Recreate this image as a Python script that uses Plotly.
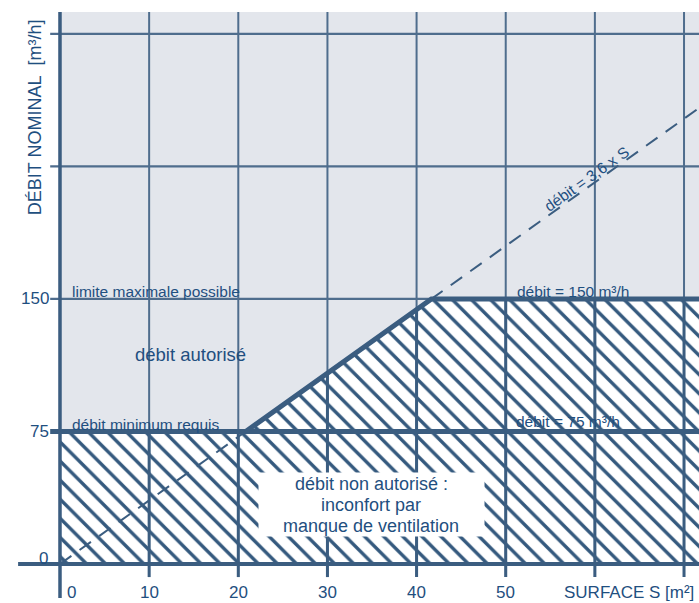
import plotly.graph_objects as go

# ---------------- data ----------------
x_ticks = [0, 10, 20, 30, 40, 50, 60, 70]
x_label_vals = [0, 10, 20, 30, 40, 50]
x_tick_labels = ["0", "10", "20", "30", "40", "50"]
y_grid = [75, 150, 225, 300]
y_tick_vals = [0, 75, 150]
y_tick_labels = ["0", "75", "150"]
coef = 3.6          # débit = 3,6 x S
q_min = 75          # débit minimum requis
q_max = 150         # limite maximale possible
s_break = q_min / coef
s_cap = q_max / coef

# ---------------- style ----------------
LINE = "#3b5d80"
GRID = "#4f6d8d"
TEXT = "#1f4f80"
GRAY = "#e3e6ec"
FONT = "Liberation Sans, Arial, sans-serif"

X_MIN, X_MAX = -6.73, 71.68
Y_MIN, Y_MAX = -22.07, 319.2
X_END = 73
Y_TOP = 312.4

fig = go.Figure()

hatch = dict(shape="\\", size=13.5, solidity=0.25, fgcolor="#34597e", bgcolor="white", fgopacity=1)

# lower hatched zone (débit non autorisé)
fig.add_trace(go.Scatter(
    x=[0, X_END, X_END, 0, 0], y=[0, 0, q_min, q_min, 0],
    fill="toself", fillcolor="white", fillpattern=hatch,
    line=dict(width=0), mode="lines", hoverinfo="skip", showlegend=False))
# upper hatched zone
fig.add_trace(go.Scatter(
    x=[s_break, s_cap, X_END, X_END, s_break], y=[q_min, q_max, q_max, q_min, q_min],
    fill="toself", fillcolor="white", fillpattern=hatch,
    line=dict(width=0), mode="lines", hoverinfo="skip", showlegend=False))

# vertical grid lines
vx, vy = [], []
for t in x_ticks[1:]:
    vx += [t, t, None]
    vy += [-7.4, Y_TOP, None]
fig.add_trace(go.Scatter(x=vx, y=vy, mode="lines", line=dict(color=GRID, width=2),
                         hoverinfo="skip", showlegend=False))
# grid lines reinforced inside hatched zone
zx, zy = [], []
for t in x_ticks[1:]:
    top = min(coef * t, q_max) if t > s_break else q_min
    zx += [t, t, None]
    zy += [-7.4, top, None]
fig.add_trace(go.Scatter(x=zx, y=zy, mode="lines", line=dict(color=LINE, width=3),
                         hoverinfo="skip", showlegend=False))
# horizontal grid lines
hx, hy = [], []
for g in y_grid:
    if g == q_min:
        continue
    hx += [-1.1, X_END if g != q_max else s_cap, None]
    hy += [g, g, None]
fig.add_trace(go.Scatter(x=hx, y=hy, mode="lines", line=dict(color=GRID, width=2.3),
                         hoverinfo="skip", showlegend=False))
# y axis line (S = 0)
fig.add_trace(go.Scatter(x=[0, 0], y=[-19.2, Y_TOP], mode="lines",
                         line=dict(color=LINE, width=3.5), hoverinfo="skip", showlegend=False))
# x axis line (débit = 0)
fig.add_trace(go.Scatter(x=[-4.7, X_END], y=[0, 0], mode="lines",
                         line=dict(color=LINE, width=4), hoverinfo="skip", showlegend=False))
# débit minimum line
fig.add_trace(go.Scatter(x=[-1.1, X_END], y=[q_min, q_min], mode="lines",
                         line=dict(color=LINE, width=5), hoverinfo="skip", showlegend=False))
# upper boundary of hatched zone
fig.add_trace(go.Scatter(x=[s_break, s_cap, X_END], y=[q_min, q_max, q_max], mode="lines",
                         line=dict(color=LINE, width=5), hoverinfo="skip", showlegend=False))
# débit = 3,6 x S dashed line
fig.add_trace(go.Scatter(x=[0, X_END], y=[0, coef * X_END], mode="lines",
                         line=dict(color=LINE, width=2, dash="14px,10px"),
                         hoverinfo="skip", showlegend=False))

# gray background
fig.add_shape(type="rect", xref="x", yref="y", x0=-0.2, x1=X_END, y0=0, y1=Y_TOP,
              fillcolor=GRAY, line=dict(width=0), layer="below")

ann = []
# tick labels
for v, lab in zip(x_label_vals, x_tick_labels):
    ann.append(dict(x=v, y=-16.4, text=lab, showarrow=False, xanchor="center", yanchor="middle",
                    xshift=11 if v == 0 else 0, font=dict(size=17, color=TEXT, family=FONT)))
for v, lab in zip(y_tick_vals, y_tick_labels):
    ann.append(dict(x=-1.0, y=v, text=lab, showarrow=False, xanchor="right", yanchor="middle",
                    yshift=6 if v == 0 else 0, xshift=-1 if v == 0 else 0,
                    font=dict(size=17, color=TEXT, family=FONT)))
# axis titles
ann.append(dict(x=56.3, y=-16.4, text="SURFACE S [m²]", showarrow=False, xanchor="left",
                yanchor="middle", font=dict(size=17, color=TEXT, family=FONT)))
ann.append(dict(x=-2.8, y=252.9, text="DÉBIT NOMINAL\u00a0 [m³/h]", showarrow=False,
                textangle=-90, xanchor="center", yanchor="middle",
                font=dict(size=18, color=TEXT, family=FONT)))
# labels
lab_font = dict(size=15.5, color=TEXT, family=FONT)
ann.append(dict(x=1.1, y=154.5, text="limite maximale possible", showarrow=False,
                xanchor="left", yanchor="middle", font=lab_font))
ann.append(dict(x=1.1, y=79.2, text="débit minimum requis", showarrow=False,
                xanchor="left", yanchor="middle", font=lab_font))
ann.append(dict(x=51.0, y=154.5, text="débit = 150 m³/h", showarrow=False,
                xanchor="left", yanchor="middle", font=lab_font))
ann.append(dict(x=50.9, y=80.9, text="débit = 75 m³/h", showarrow=False,
                xanchor="left", yanchor="middle", font=lab_font))
ann.append(dict(x=14.6, y=118.8, text="débit autorisé", showarrow=False,
                xanchor="center", yanchor="middle", font=dict(size=18.5, color=TEXT, family=FONT)))
ann.append(dict(x=59.6, y=coef * 59.6, text="débit = 3,6 x S", showarrow=False, textangle=-35.5,
                xanchor="center", yanchor="middle", xshift=-4, yshift=6, font=lab_font))
# box for non-authorised zone
ann.append(dict(x=34.9, y=33.4, text=" ", showarrow=False, width=223, height=61,
                bgcolor="white", borderpad=1, xanchor="center", yanchor="middle"))
box_lines = ["débit non autorisé :", "inconfort par", "manque de ventilation"]
for i, t in enumerate(box_lines):
    ann.append(dict(x=34.9, y=33.4, text=t, showarrow=False, xanchor="center", yanchor="middle",
                    yshift=(1 - i) * 21, font=dict(size=18, color=TEXT, family=FONT)))

fig.update_layout(
    width=699, height=603,
    margin=dict(l=0, r=0, t=0, b=0),
    paper_bgcolor="white", plot_bgcolor="white",
    xaxis=dict(range=[X_MIN, X_MAX], visible=False, fixedrange=True),
    yaxis=dict(range=[Y_MIN, Y_MAX], visible=False, fixedrange=True),
    annotations=ann,
    showlegend=False,
)

fig.write_html("out.html", config={"displayModeBar": False},
               post_script="document.body.style.margin='0';document.body.style.overflow='hidden';")
